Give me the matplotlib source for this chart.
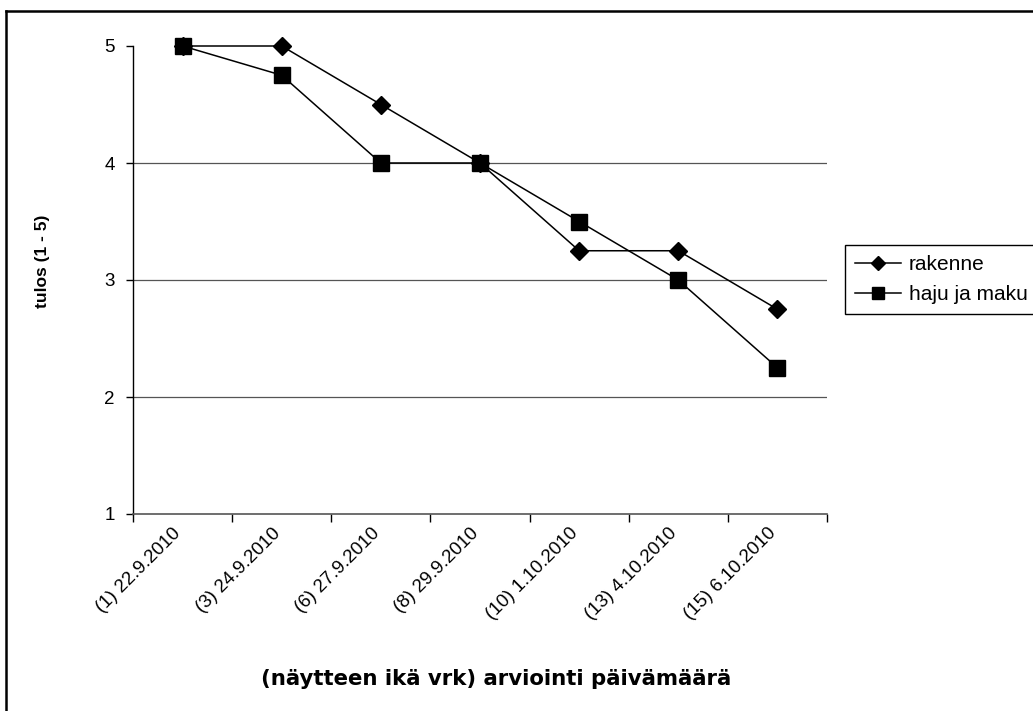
import matplotlib.pyplot as plt
import matplotlib.transforms as mtransforms
from matplotlib.lines import Line2D

plt.rcParams['font.family'] = ['Liberation Sans', 'DejaVu Sans']

# Data
dates = ['(1) 22.9.2010', '(3) 24.9.2010', '(6) 27.9.2010', '(8) 29.9.2010',
         '(10) 1.10.2010', '(13) 4.10.2010', '(15) 6.10.2010']
rakenne = [5, 5, 4.5, 4, 3.25, 3.25, 2.75]
haju_ja_maku = [5, 4.75, 4, 4, 3.5, 3, 2.25]
y_ticks = [1, 2, 3, 4, 5]

W, H = 1033, 711
fig = plt.figure(figsize=(W / 100, H / 100), dpi=100)
ax = fig.add_axes([133 / W, 1 - 514 / H, (827 - 133) / W, (514 - 46) / H])

x = list(range(len(dates)))
ax.plot(x, rakenne, color='black', lw=1.1, marker='D', ms=9.2,
        label='rakenne', clip_on=False, zorder=3)
ax.plot(x, haju_ja_maku, color='black', lw=1.1, marker='s', ms=11.5,
        label='haju ja maku', clip_on=False, zorder=3)

ax.set_xlim(-0.5, len(dates) - 0.5)
ax.set_ylim(1, 5)

# gridlines at interior values
for v in y_ticks[1:-1]:
    ax.axhline(v, color='#555555', lw=0.9, zorder=1)

ax.set_yticks(y_ticks)
ax.set_yticklabels([str(v) for v in y_ticks], fontsize=13.5)
ax.tick_params(axis='y', length=5, width=1, pad=8, direction='out')

# category ticks at boundaries, labels at centers
ax.set_xticks([i - 0.5 for i in range(len(dates) + 1)], minor=True)
ax.set_xticks(x)
ax.set_xticklabels(dates, fontsize=13.5, rotation=45, ha='right', va='center',
                   rotation_mode='anchor')
ax.tick_params(axis='x', which='major', length=0, pad=12)
ax.tick_params(axis='x', which='minor', length=6, width=1, direction='out')
shift = mtransforms.ScaledTranslation(-4 / 100, 0, fig.dpi_scale_trans)
for lbl in ax.get_xticklabels():
    lbl.set_transform(lbl.get_transform() + shift)

for s in ['top', 'right']:
    ax.spines[s].set_visible(False)
ax.spines['left'].set_color('black')
ax.spines['bottom'].set_color('#555555')
ax.spines['left'].set_linewidth(1)
ax.spines['bottom'].set_linewidth(1.2)

fig.text(43 / W, 1 - 261 / H, 'tulos (1 - 5)', rotation=90, fontsize=12.5,
         fontweight='bold', ha='center', va='center')
fig.text(496 / W, 1 - 679 / H, '(näytteen ikä vrk) arviointi päivämäärä',
         fontsize=15.3, fontweight='bold', ha='center', va='center',
         family=['DejaVu Sans'])

leg = fig.legend(loc='upper left', bbox_to_anchor=(845 / W, 1 - 245 / H),
                 prop={'size': 15}, frameon=True, fancybox=False, framealpha=1,
                 edgecolor='black', handlelength=2.2, handletextpad=0.35,
                 borderpad=0.5, labelspacing=0.5, borderaxespad=0)
leg.get_frame().set_linewidth(1)
leg.legend_handles[0].set_markersize(7.5)
leg.legend_handles[1].set_markersize(9)

# outer chart border (top and left visible)
fig.add_artist(Line2D([6 / W, 6 / W], [0, 1 - 11 / H], color='black', lw=1.8,
                      transform=fig.transFigure))
fig.add_artist(Line2D([6 / W, 1], [1 - 11 / H, 1 - 11 / H], color='black',
                      lw=1.8, transform=fig.transFigure))

fig.savefig('out.png', dpi=100)
